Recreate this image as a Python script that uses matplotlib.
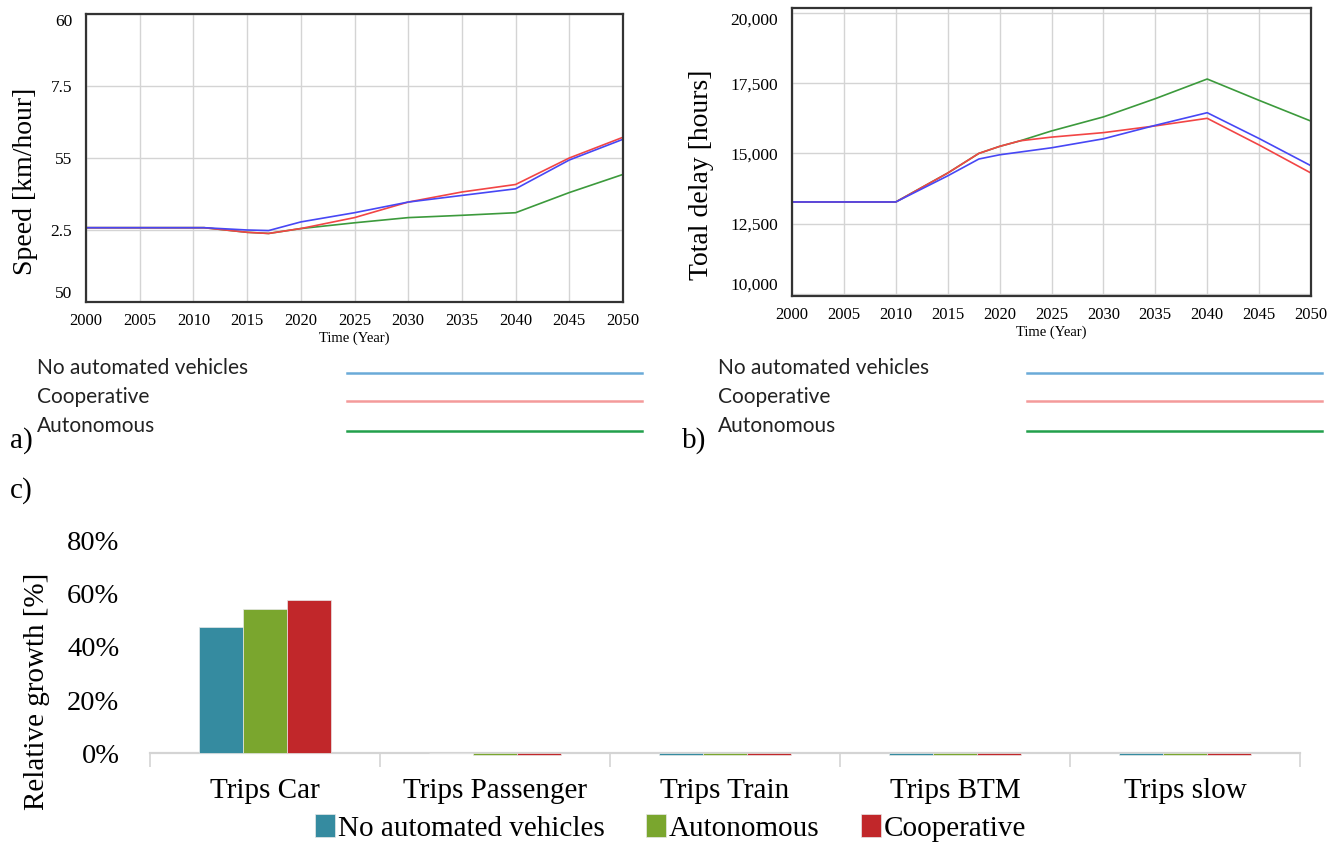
import matplotlib
matplotlib.use('Agg')
import matplotlib.pyplot as plt
from matplotlib.lines import Line2D
from matplotlib.ticker import FuncFormatter

# ── DATA ─────────────────────────────────────────────────────
scenarios = ['No automated vehicles', 'Cooperative', 'Autonomous']

years_a = [2000, 2011, 2015, 2017, 2020, 2025, 2030, 2035, 2040, 2045, 2050]
speed_none = [52.58, 52.58, 52.5, 52.48, 52.78, 53.1, 53.47, 53.7, 53.93, 54.93, 55.65]
speed_coop = [52.58, 52.58, 52.42, 52.38, 52.55, 52.93, 53.47, 53.82, 54.08, 55.0, 55.72]
speed_auto = [52.58, 52.58, 52.42, 52.38, 52.55, 52.75, 52.93, 53.01, 53.1, 53.8, 54.43]
speed_ticks = [50, 52.5, 55, 57.5, 60]
speed_ticklabels = ['50', '2.5', '55', '7.5', '60']   # truncated as in the source

years_b = [2000, 2010, 2015, 2018, 2020, 2022, 2025, 2030, 2035, 2040, 2045, 2050]
delay_none = [13270, 13270, 14200, 14800, 14950, 15050, 15200, 15520, 16000, 16450, 15530, 14560]
delay_coop = [13270, 13270, 14300, 15000, 15250, 15450, 15580, 15740, 15980, 16250, 15300, 14300]
delay_auto = [13270, 13270, 14300, 15000, 15250, 15450, 15800, 16300, 16950, 17650, 16890, 16150]
delay_ticks = [10000, 12500, 15000, 17500, 20000]

categories = ['Trips Car', 'Trips Passenger', 'Trips Train', 'Trips BTM', 'Trips slow']
bar_series = ['No automated vehicles', 'Autonomous', 'Cooperative']
growth_none = [47.4, 0.3, -0.6, -0.6, -0.6]
growth_auto = [54.0, -0.6, -0.6, -0.6, -0.6]
growth_coop = [57.4, -0.6, -0.6, -0.6, -0.6]

# ── COLORS ───────────────────────────────────────────────────
LINE_BLUE  = '#4747F5'
LINE_RED   = '#F24545'
LINE_GREEN = '#3C9A3C'
LEG_COLORS = ['#6AAAD8', '#F49A9A', '#22A04C']
BAR_COLORS = ['#358BA0', '#7AA62E', '#C1272A']
GRID = '#D4D4D4'
SERIF = ['Liberation Serif', 'DejaVu Serif']

W, H = 1341, 844
fig = plt.figure(figsize=(W / 100, H / 100), dpi=100)
fig.patch.set_facecolor('white')


def px_axes(left, top, right, bottom):
    return fig.add_axes([left / W, 1 - bottom / H, (right - left) / W, (bottom - top) / H])


def style_line_ax(ax, ylabel, yticks, yticklabels, ylim):
    ax.set_xlim(2000, 2050)
    ax.set_ylim(*ylim)
    ax.set_xticks(range(2000, 2051, 5))
    ax.set_yticks(yticks)
    ax.set_yticklabels(yticklabels)
    ax.grid(True, color=GRID, linewidth=1.0)
    ax.set_axisbelow(True)
    ax.tick_params(axis='x', length=0, labelsize=12, pad=8)
    ax.tick_params(axis='y', length=0, labelsize=12.5, pad=10)
    for lab in ax.get_xticklabels() + ax.get_yticklabels():
        lab.set_family(SERIF)
    # Vensim-style: end labels sit inside the frame
    ylabs = ax.get_yticklabels()
    ylabs[0].set_va('bottom')
    ylabs[-1].set_va('top')
    for sp in ax.spines.values():
        sp.set_color('#333333')
        sp.set_linewidth(1.6)
    ax.set_xlabel('Time (Year)', family=SERIF, fontsize=10.5, labelpad=2)
    ax.set_ylabel(ylabel, family=SERIF, fontsize=20)


# ── a) Speed ─────────────────────────────────────────────────
ax_a = px_axes(86, 14, 623, 302)
ax_a.plot(years_a, speed_auto, color=LINE_GREEN, lw=1.2)
ax_a.plot(years_a, speed_coop, color=LINE_RED, lw=1.2)
ax_a.plot(years_a, speed_none, color=LINE_BLUE, lw=1.2)
style_line_ax(ax_a, 'Speed [km/hour]', speed_ticks, speed_ticklabels, (50, 60))
ax_a.yaxis.set_label_coords(-0.089, 0.42)

# ── b) Total delay ───────────────────────────────────────────
ax_b = px_axes(792, 8, 1311, 296)
ax_b.plot(years_b, delay_auto, color=LINE_GREEN, lw=1.2)
ax_b.plot(years_b, delay_coop, color=LINE_RED, lw=1.2)
ax_b.plot(years_b, delay_none, color=LINE_BLUE, lw=1.2)
style_line_ax(ax_b, 'Total delay [hours]', delay_ticks,
              [f'{v:,}' for v in delay_ticks], (9920, 20180))
ax_b.yaxis.set_label_coords(-0.150, 0.42)

# ── line legends under a) and b) ─────────────────────────────
rows_y = [368, 397, 426]
line_y = [373, 401, 431]
for tx, lx0, lx1 in [(37, 347, 642), (718, 1027, 1322)]:
    for name, ty, ly, col in zip(scenarios, rows_y, line_y, LEG_COLORS):
        fig.text(tx / W, 1 - ty / H, name, fontsize=15, family=['Lato', 'DejaVu Sans'],
                 va='center', ha='left', color='#222222')
        fig.add_artist(Line2D([lx0 / W, lx1 / W], [1 - ly / H, 1 - ly / H],
                              color=col, lw=1.8))

fig.text(10 / W, 1 - 441 / H, 'a)', family=SERIF, fontsize=21, va='center')
fig.text(682 / W, 1 - 441 / H, 'b)', family=SERIF, fontsize=21, va='center')
fig.text(10 / W, 1 - 491 / H, 'c)', family=SERIF, fontsize=21, va='center')

# ── c) Relative growth bars ──────────────────────────────────
ax_c = px_axes(150, 540, 1300, 760)
x = range(len(categories))
bw = 0.19
for i, (vals, col, name) in enumerate(zip([growth_none, growth_auto, growth_coop],
                                          BAR_COLORS, bar_series)):
    ax_c.bar([xi + (i - 1) * bw for xi in x], vals, width=bw, color=col,
             edgecolor='#E8E8E8', linewidth=0.5, label=name, zorder=3)

ax_c.set_xlim(-0.5, len(categories) - 0.5)
ax_c.set_ylim(-2.5, 80)
ax_c.set_yticks([0, 20, 40, 60, 80])
ax_c.yaxis.set_major_formatter(FuncFormatter(lambda v, _: f'{v:.0f}%'))
for sp in ['top', 'right', 'left']:
    ax_c.spines[sp].set_visible(False)
ax_c.spines['bottom'].set_position(('data', 0))
ax_c.spines['bottom'].set_color(GRID)
ax_c.spines['bottom'].set_linewidth(1.6)
ax_c.set_xticks([i - 0.5 for i in range(len(categories) + 1)])
ax_c.set_xticklabels([])
ax_c.set_xticks(list(x), minor=True)
ax_c.set_xticklabels(categories, minor=True)
ax_c.tick_params(axis='x', which='major', length=10, color=GRID, width=1.2, direction='out')
ax_c.tick_params(axis='x', which='minor', length=0, pad=18, labelsize=21)
ax_c.tick_params(axis='y', length=0, pad=22, labelsize=20.5)
for lab in ax_c.get_xticklabels(minor=True) + ax_c.get_yticklabels():
    lab.set_family(SERIF)
ax_c.set_ylabel('Relative growth [%]', family=SERIF, fontsize=21)
ax_c.yaxis.set_label_coords(-0.087, 0.31)

fig.legend(loc='center', bbox_to_anchor=(0.5, 1 - 828 / H), ncol=3, frameon=False,
           prop={'family': SERIF, 'size': 21}, handlelength=0.7, handleheight=0.8,
           handletextpad=0.1, columnspacing=1.4, borderaxespad=0)

fig.savefig('out.png', dpi=100, facecolor='white')
